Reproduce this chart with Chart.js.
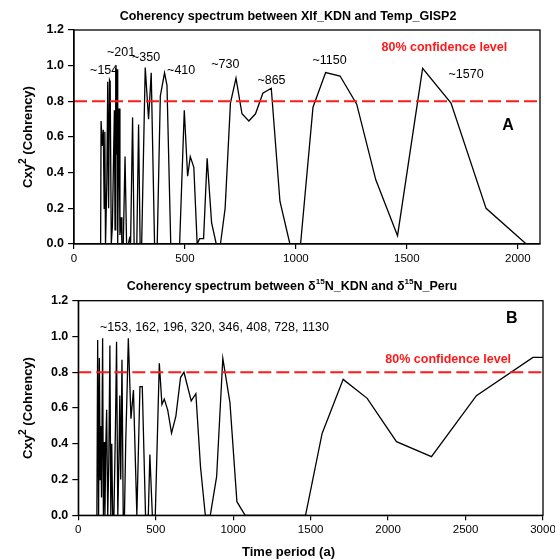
<!DOCTYPE html>
<html><head><meta charset="utf-8">
<script src="https://cdn.jsdelivr.net/npm/chart.js@4/dist/chart.umd.min.js"></script>
<style>html,body{margin:0;padding:0;background:#fff;}canvas{display:block;}</style>
</head><body>
<canvas id="c1" width="555" height="270"></canvas>
<canvas id="c2" width="555" height="289"></canvas>
<script>
// ---- Data ----
const topPeriods = [120,122,128,132,136,139,142,148,152,156,160,163,168,173,178,182,185,188,192,194,197,200,203,207,212,216,222,230,237,245,250,255,264,268,271,283,291,298,305,321,336,348,363,375,389,408,419,436,476,497,512,524,540,555,566,584,600,620,641,660,681,705,730,757,788,818,851,889,928,973,1021,1077,1134,1199,1274,1360,1458,1571,1699,1857,2038];
const topCoherency = [0,0.69,0.55,0.64,0.2,0.63,0,0.35,0.91,0.2,0.92,0.91,0,0.1,0.47,0.75,0.08,0.99,0.5,0.98,0,0.4,0.76,0.05,0.15,0,0,0.49,0,0,0.03,0,0.71,0.3,0,0,0.67,0,0,0.99,0.70,0.96,0,0,0.83,0.96,0.89,0,0,0.75,0.38,0.49,0.43,0,0.03,0.03,0.48,0.12,0,0,0.2,0.79,0.93,0.73,0.69,0.73,0.845,0.873,0.24,0,0,0.767,0.961,0.942,0.784,0.36,0.047,0.985,0.79,0.2,0];
const botPeriods = [120,125,131,136,141,145,150,157,162,166,172,178,183,190,197,204,210,216,222,230,240,247,255,262,268,274,282,290,298,306,315,323,340,356,378,398,413,434,452,462,478,497,523,540,555,577,602,630,660,682,729,759,789,820,852,893,933,979,1024,1077,1467,1574,1710,1865,2054,2280,2570,2935,3000];
const botCoherency = [0,0.98,0,0.88,0.2,0.5,0.1,0.99,0,0.41,0,0.41,0.59,0,0.3,0.95,0,0.4,0,0,0.5,0.97,0,0.3,0.67,0.2,0.87,0,0,0.4,0.7,0.99,0.54,0.70,0,0.72,0.72,0,0,0.34,0,0,0.85,0.62,0.65,0.59,0.46,0.555,0.77,0.80,0.64,0.68,0.27,0,0,0.216,0.878,0.63,0.076,0,0,0.458,0.76,0.654,0.412,0.328,0.669,0.883,0.883];
const confidenceLevel = 0.8;
const yTicks = [0, 0.2, 0.4, 0.6, 0.8, 1.0, 1.2];
const topXTicks = [0, 500, 1000, 1500, 2000];
const botXTicks = [0, 500, 1000, 1500, 2000, 2500, 3000];
const topPeakLabels = ['~154', '~201', '~350', '~410', '~730', '~865', '~1150', '~1570'];
const botPeakLabel = '~153, 162, 196, 320, 346, 408, 728, 1130';
const confLabel = '80% confidence level';

const FONT = '"Liberation Sans", Arial, Helvetica, sans-serif';

function drawRich(ctx, segs, x, y, size, weight, color, rotate) {
  ctx.save();
  ctx.translate(x, y);
  if (rotate) ctx.rotate(-Math.PI / 2);
  let total = 0;
  segs.forEach(s => {
    const fs = s.sup ? size * s.sup : size;
    ctx.font = weight + ' ' + fs + 'px ' + FONT;
    s._w = ctx.measureText(s.t).width;
    total += s._w;
  });
  let cx = -total / 2;
  ctx.textAlign = 'left';
  ctx.textBaseline = 'alphabetic';
  ctx.fillStyle = color;
  const base = size * 0.36;
  segs.forEach(s => {
    const fs = s.sup ? size * s.sup : size;
    ctx.font = weight + ' ' + fs + 'px ' + FONT;
    ctx.fillText(s.t, cx, base - (s.sup ? size * 0.42 : 0));
    cx += s._w;
  });
  ctx.restore();
}

function textPlugin(cfg) {
  return {
    id: 'texts',
    afterDraw(chart) {
      const ctx = chart.ctx, a = chart.chartArea;
      const xs = chart.scales.x, ys = chart.scales.y;
      // frame
      ctx.save();
      ctx.strokeStyle = '#000';
      ctx.lineWidth = 1.3;
      ctx.strokeRect(a.left, a.top, a.right - a.left, a.bottom - a.top);
      ctx.restore();
      // chart title
      drawRich(ctx, cfg.title, cfg.titleX, cfg.titleY, 12.5, 'bold', '#000', false);
      // y-axis title
      drawRich(ctx, [{t: 'Cxy'}, {t: '2', sup: 0.8}, {t: ' (Cohrency)'}], 27, (a.top + a.bottom) / 2, 13, 'bold', '#000', true);
      if (cfg.xTitle) drawRich(ctx, [{t: cfg.xTitle}], cfg.xTitleX, cfg.xTitleY, 13, 'bold', '#000', false);
      // annotations in data coordinates
      cfg.notes.forEach(n => {
        ctx.save();
        ctx.font = (n.weight || 'normal') + ' ' + (n.size || 12.5) + 'px ' + FONT;
        ctx.fillStyle = n.color || '#000';
        ctx.textAlign = 'center';
        ctx.textBaseline = 'middle';
        ctx.fillText(n.text, xs.getPixelForValue(n.x), ys.getPixelForValue(n.y));
        ctx.restore();
      });
    }
  };
}

function makeChart(id, xs, ys, xMax, xTicks, lay, cfg) {
  const pts = xs.map((x, i) => ({x: x, y: ys[i]}));
  return new Chart(document.getElementById(id), {
    type: 'scatter',
    data: {
      datasets: [
        {data: [{x: 0, y: confidenceLevel}, {x: xMax, y: confidenceLevel}], showLine: true, borderColor: '#ff1a1a', borderWidth: 2, borderDash: [13, 5], pointRadius: 0, order: 0},
        {data: pts, showLine: true, borderColor: '#000', borderWidth: 1.3, pointRadius: 0, tension: 0, order: 1}
      ]
    },
    options: {
      responsive: false, animation: false, devicePixelRatio: 1,
      layout: {padding: {top: lay.top, right: lay.right, left: 0, bottom: 0}},
      plugins: {legend: {display: false}, tooltip: {enabled: false}, title: {display: false}},
      scales: {
        x: {
          type: 'linear', min: 0, max: xMax,
          afterBuildTicks: s => { s.ticks = xTicks.map(v => ({value: v})); },
          afterFit: s => { s.height = lay.xh; s.paddingLeft = 0; s.paddingRight = 0; },
          grid: {display: true, drawOnChartArea: false, drawTicks: true, tickLength: 5, color: '#000', lineWidth: 1.2},
          border: {display: true, color: '#000', width: 1.3},
          ticks: {color: '#000', font: {family: FONT, size: 11.5}, padding: 3, maxRotation: 0, autoSkip: false, callback: v => String(v)}
        },
        y: {
          min: 0, max: 1.2,
          afterBuildTicks: s => { s.ticks = yTicks.map(v => ({value: v})); },
          afterFit: s => { s.width = lay.yw; s.paddingTop = 0; s.paddingBottom = 0; },
          grid: {display: true, drawOnChartArea: false, drawTicks: true, tickLength: 6, color: '#000', lineWidth: 1.2},
          border: {display: true, color: '#000', width: 1.3},
          ticks: {color: '#000', font: {family: FONT, size: 12.5, weight: 'bold'}, padding: 4, autoSkip: false, callback: v => Number(v).toFixed(1)}
        }
      }
    },
    plugins: [textPlugin(cfg)]
  });
}

makeChart('c1', topPeriods, topCoherency, 2100, topXTicks, {top: 30, right: 15, xh: 26, yw: 74}, {
  title: [{t: 'Coherency spectrum between Xlf_KDN and Temp_GISP2'}], titleX: 288, titleY: 15,
  notes: [
    {text: topPeakLabels[0], x: 136, y: 0.970},
    {text: topPeakLabels[1], x: 212, y: 1.071},
    {text: topPeakLabels[2], x: 325, y: 1.043},
    {text: topPeakLabels[3], x: 483, y: 0.970},
    {text: topPeakLabels[4], x: 682, y: 1.004},
    {text: topPeakLabels[5], x: 890, y: 0.914},
    {text: topPeakLabels[6], x: 1152, y: 1.026},
    {text: topPeakLabels[7], x: 1767, y: 0.953},
    {text: confLabel, x: 1669, y: 1.099, color: '#ff1a1a', weight: 'bold', size: 12.5},
    {text: 'A', x: 1956, y: 0.662, weight: 'bold', size: 16}
  ]
});

makeChart('c2', botPeriods, botCoherency, 3000, botXTicks, {top: 30.7, right: 12, xh: 43.7, yw: 78.3}, {
  title: [{t: 'Coherency spectrum between δ'}, {t: '15', sup: 0.65}, {t: 'N_KDN and δ'}, {t: '15', sup: 0.65}, {t: 'N_Peru'}], titleX: 292, titleY: 15,
  xTitle: 'Time period (a)', xTitleX: 288.5, xTitleY: 281.5,
  notes: [
    {text: botPeakLabel, x: 879, y: 1.048},
    {text: confLabel, x: 2388, y: 0.869, color: '#ff1a1a', weight: 'bold', size: 12.5},
    {text: 'B', x: 2798, y: 1.099, weight: 'bold', size: 16}
  ]
});
</script>
</body></html>
